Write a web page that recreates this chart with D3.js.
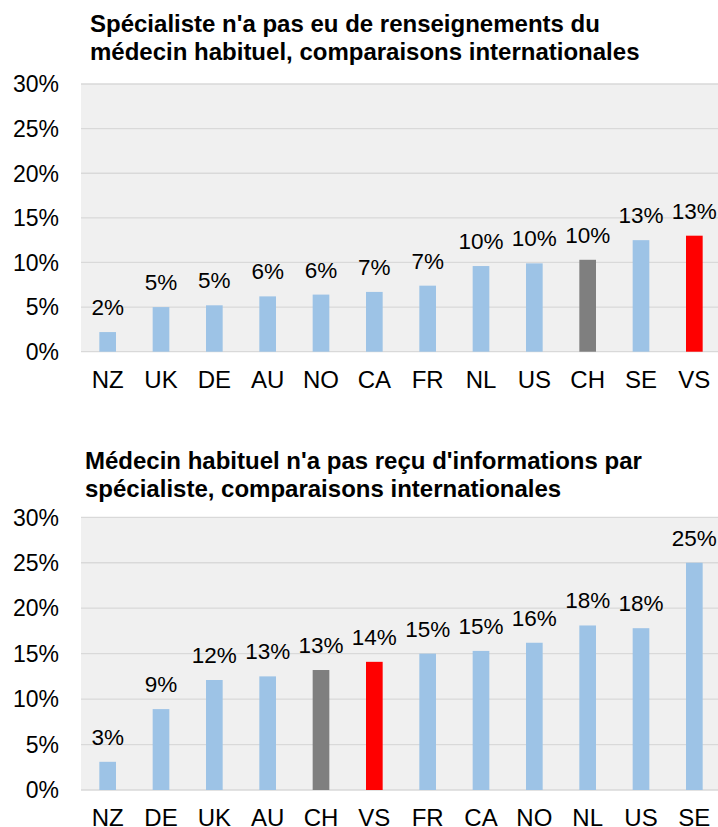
<!DOCTYPE html>
<html>
<head>
<meta charset="utf-8">
<script src="https://cdn.jsdelivr.net/npm/d3@7"></script>
<style>
  html, body { margin: 0; padding: 0; background: #fff; }
  svg { display: block; font-family: "Liberation Sans", Arial, sans-serif; }
</style>
</head>
<body>
<svg id="chart" width="718" height="827"></svg>
<script>
// Chart 1: specialist did not receive information from the usual doctor
const title1 = ["Spécialiste n'a pas eu de renseignements du", "médecin habituel, comparaisons internationales"];
const countries1 = ["NZ", "UK", "DE", "AU", "NO", "CA", "FR", "NL", "US", "CH", "SE", "VS"];
const values1 = [2.2, 5.0, 5.2, 6.2, 6.4, 6.7, 7.4, 9.6, 9.9, 10.3, 12.5, 13.0];

// Chart 2: usual doctor did not receive information from the specialist
const title2 = ["Médecin habituel n'a pas reçu d'informations par", "spécialiste, comparaisons internationales"];
const countries2 = ["NZ", "DE", "UK", "AU", "CH", "VS", "FR", "CA", "NO", "NL", "US", "SE"];
const values2 = [3.1, 8.9, 12.1, 12.5, 13.2, 14.1, 15.0, 15.3, 16.2, 18.1, 17.8, 25.0];

const yTicks = [0, 5, 10, 15, 20, 25, 30];

const colorFor = c => c === "CH" ? "#7F7F7F" : (c === "VS" ? "#FF0000" : "#9DC3E6");

const svg = d3.select("#chart");

function drawPanel(cfg) {
  const g = svg.append("g");

  const x = d3.scaleBand()
    .domain(cfg.countries)
    .range([81, 721])
    .paddingInner(0.6875)
    .paddingOuter(0.34375);

  const y = d3.scaleLinear()
    .domain([0, 30])
    .range([cfg.bottom, cfg.top]);

  // plot background
  g.append("rect")
    .attr("x", 81).attr("y", y(30))
    .attr("width", 640).attr("height", y(0) - y(30))
    .attr("fill", "#F0F0F0");

  // horizontal gridlines
  g.selectAll("line.grid").data(yTicks).join("line")
    .attr("class", "grid")
    .attr("x1", 81).attr("x2", 721)
    .attr("y1", d => y(d)).attr("y2", d => y(d))
    .attr("stroke", "#D9D9D9").attr("stroke-width", 1.3);

  // y-axis tick labels
  g.selectAll("text.ytick").data(yTicks).join("text")
    .attr("class", "ytick")
    .attr("x", 59).attr("y", d => y(d))
    .attr("dy", "0.36em")
    .attr("text-anchor", "end")
    .attr("font-size", 23)
    .attr("fill", "#000")
    .text(d => d + "%");

  const rows = cfg.countries.map((c, i) => ({ c, v: cfg.values[i] }));

  // bars
  g.selectAll("rect.bar").data(rows).join("rect")
    .attr("class", "bar")
    .attr("x", d => x(d.c)).attr("width", x.bandwidth())
    .attr("y", d => y(d.v)).attr("height", d => y(0) - y(d.v))
    .attr("fill", d => colorFor(d.c));

  // value labels
  g.selectAll("text.val").data(rows).join("text")
    .attr("class", "val")
    .attr("x", d => x(d.c) + x.bandwidth() / 2)
    .attr("y", d => y(d.v) - 17)
    .attr("text-anchor", "middle")
    .attr("font-size", 22.5)
    .attr("fill", "#000")
    .text(d => Math.round(d.v) + "%");

  // category labels
  g.selectAll("text.cat").data(rows).join("text")
    .attr("class", "cat")
    .attr("x", d => x(d.c) + x.bandwidth() / 2)
    .attr("y", y(0) + cfg.catOffset)
    .attr("text-anchor", "middle")
    .attr("font-size", 24)
    .attr("fill", "#000")
    .text(d => d.c);

  // title
  g.selectAll("text.title").data(cfg.title).join("text")
    .attr("class", "title")
    .attr("x", cfg.titleX)
    .attr("y", (d, i) => cfg.titleY + i * 27.5)
    .attr("font-size", 24)
    .attr("font-weight", "bold")
    .attr("fill", "#000")
    .text(d => d);
}

drawPanel({ title: title1, countries: countries1, values: values1, top: 84, bottom: 351.7, titleX: 90, titleY: 32, catOffset: 36 });
drawPanel({ title: title2, countries: countries2, values: values2, top: 517.3, bottom: 790, titleX: 85, titleY: 469, catOffset: 36 });
</script>
</body>
</html>
